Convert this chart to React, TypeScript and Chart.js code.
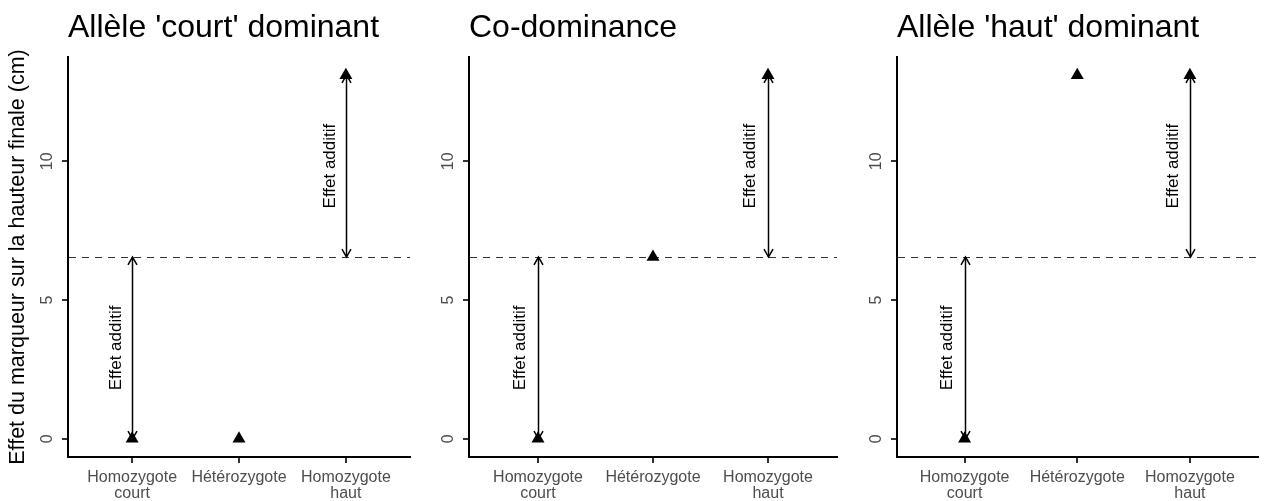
import React, { useEffect, useRef } from "react";
import { Chart, registerables } from "chart.js";

Chart.register(...registerables);

// ---------- data ----------
const categories: string[][] = [["Homozygote", "court"], ["Hétérozygote"], ["Homozygote", "haut"]];
const categoryPositions = [1, 2, 3];
const panelTitles = ["Allèle 'court' dominant", "Co-dominance", "Allèle 'haut' dominant"];
const courtDominant = [0, 0, 13.1];
const coDominance = [0, 6.55, 13.1];
const hautDominant = [0, 13.1, 13.1];
const additiveMidpoint = 6.55;
const yTicks = [0, 5, 10];
const yAxisTitle = "Effet du marqueur sur la hauteur finale (cm)";
const arrowLabel = "Effet additif";

const panelValues = [courtDominant, coDominance, hautDominant];

// ---------- styling ----------
const FONT = "'Liberation Sans', Arial, Helvetica, sans-serif";
const CANVAS_H = 501;
const yDataMax = Math.max(...courtDominant, ...coDominance, ...hautDominant);
const yDataMin = Math.min(...courtDominant, ...coDominance, ...hautDominant);
const yExpand = (yDataMax - yDataMin) * 0.05;
const Y_MIN = yDataMin - yExpand;
const Y_MAX = yDataMax + yExpand;

const panelLayout = [
  { left: 0, width: 440, yScaleWidth: 68, padRight: 30, yTitle: true },
  { left: 440, width: 428, yScaleWidth: 29, padRight: 31, yTitle: false },
  { left: 868, width: 397, yScaleWidth: 29, padRight: 0, yTitle: false },
];

function drawArrow(ctx: CanvasRenderingContext2D, x: number, y1: number, y2: number) {
  const head = 9;
  const ang = Math.PI / 6;
  ctx.beginPath();
  ctx.moveTo(x, y1);
  ctx.lineTo(x, y2);
  ctx.stroke();
  const drawHead = (tipY: number, dir: number) => {
    ctx.beginPath();
    ctx.moveTo(x - head * Math.sin(ang), tipY - dir * head * Math.cos(ang));
    ctx.lineTo(x, tipY);
    ctx.lineTo(x + head * Math.sin(ang), tipY - dir * head * Math.cos(ang));
    ctx.stroke();
  };
  drawHead(y1, y1 > y2 ? 1 : -1);
  drawHead(y2, y2 > y1 ? 1 : -1);
}

function makeDecor(panelIndex: number) {
  const values = panelValues[panelIndex];
  const layout = panelLayout[panelIndex];
  return {
    id: "decor" + panelIndex,
    beforeDatasetsDraw(chart: any) {
      const { ctx, chartArea } = chart;
      const x = chart.scales.x;
      const y = chart.scales.y;
      // dashed mid line
      ctx.save();
      ctx.strokeStyle = "#333333";
      ctx.lineWidth = 1;
      ctx.setLineDash([7, 6]);
      const my = Math.round(y.getPixelForValue(additiveMidpoint)) + 0.5;
      ctx.beginPath();
      ctx.moveTo(chartArea.left + 1, my);
      ctx.lineTo(chartArea.right, my);
      ctx.stroke();
      ctx.restore();

      // arrows
      const arrows = [
        { cat: categoryPositions[0], from: values[0], to: additiveMidpoint },
        { cat: categoryPositions[2], from: additiveMidpoint, to: values[2] },
      ];
      ctx.save();
      ctx.strokeStyle = "#000";
      ctx.lineWidth = 1.5;
      ctx.lineCap = "butt";
      arrows.forEach((a) => {
        const px = Math.round(x.getPixelForValue(a.cat)) + 0.5;
        drawArrow(ctx, px, y.getPixelForValue(a.from), y.getPixelForValue(a.to));
      });
      ctx.restore();

      // arrow labels
      ctx.save();
      ctx.fillStyle = "#000";
      ctx.font = `17px ${FONT}`;
      ctx.textAlign = "center";
      ctx.textBaseline = "middle";
      arrows.forEach((a) => {
        const px = x.getPixelForValue(a.cat - 0.15);
        const py = y.getPixelForValue((a.from + a.to) / 2);
        ctx.save();
        ctx.translate(px, py);
        ctx.rotate(-Math.PI / 2);
        ctx.fillText(arrowLabel, 0, 0);
        ctx.restore();
      });
      ctx.restore();
    },
    afterDraw(chart: any) {
      const { ctx, chartArea } = chart;
      const y = chart.scales.y;
      // title
      ctx.save();
      ctx.fillStyle = "#000";
      ctx.font = `32px ${FONT}`;
      ctx.textAlign = "left";
      ctx.textBaseline = "alphabetic";
      ctx.fillText(panelTitles[panelIndex], chartArea.left, 37);
      ctx.restore();

      // y tick labels (rotated)
      ctx.save();
      ctx.fillStyle = "#4d4d4d";
      ctx.font = `16px ${FONT}`;
      ctx.textAlign = "center";
      ctx.textBaseline = "alphabetic";
      y.ticks.forEach((t: any) => {
        const py = y.getPixelForValue(t.value);
        ctx.save();
        ctx.translate(chartArea.left - 16, py);
        ctx.rotate(-Math.PI / 2);
        ctx.fillText(String(t.value), 0, 0);
        ctx.restore();
      });
      ctx.restore();

      // y axis title
      if (layout.yTitle) {
        ctx.save();
        ctx.fillStyle = "#000";
        ctx.font = `21.5px ${FONT}`;
        ctx.textAlign = "center";
        ctx.textBaseline = "middle";
        ctx.translate(18, (chartArea.top + chartArea.bottom) / 2);
        ctx.rotate(-Math.PI / 2);
        ctx.fillText(yAxisTitle, 0, 0);
        ctx.restore();
      }
    },
  };
}

function Panel({ index }: { index: number }) {
  const ref = useRef<HTMLCanvasElement | null>(null);
  const layout = panelLayout[index];
  useEffect(() => {
    if (!ref.current) return;
    const values = panelValues[index];
    const chart = new Chart(ref.current, {
      type: "scatter",
      data: {
        datasets: [
          {
            data: values.map((v, i) => ({ x: categoryPositions[i], y: v })),
            pointStyle: "triangle",
            pointRadius: 7.5,
            pointHoverRadius: 7.5,
            backgroundColor: "#000",
            borderColor: "#000",
            borderWidth: 0,
          },
        ],
      },
      options: {
        animation: false,
        responsive: false,
        devicePixelRatio: 1,
        events: [],
        layout: { padding: { top: 57, right: layout.padRight, bottom: 0, left: 0 } },
        plugins: {
          legend: { display: false },
          title: { display: false },
          tooltip: { enabled: false },
        },
        scales: {
          x: {
            type: "linear",
            min: 0.4,
            max: 3.6,
            afterBuildTicks: (s: any) => {
              s.ticks = categoryPositions.map((v) => ({ value: v }));
            },
            afterFit: (s: any) => {
              s.height = CANVAS_H - 457;
            },
            ticks: {
              autoSkip: false,
              maxRotation: 0,
              minRotation: 0,
              padding: 7,
              color: "#4d4d4d",
              font: { family: FONT, size: 16, lineHeight: 1.0 },
              callback: (v: any) => {
                const i = categoryPositions.indexOf(Number(v));
                return i >= 0 ? categories[i] : "";
              },
            },
            grid: {
              drawOnChartArea: false,
              drawTicks: true,
              tickLength: 6,
              color: "#333333",
              lineWidth: 2,
            },
            border: { display: true, color: "#000", width: 2 },
          },
          y: {
            type: "linear",
            min: Y_MIN,
            max: Y_MAX,
            afterBuildTicks: (s: any) => {
              s.ticks = yTicks.map((v) => ({ value: v }));
            },
            afterFit: (s: any) => {
              s.width = layout.yScaleWidth;
            },
            ticks: { display: false },
            grid: {
              drawOnChartArea: false,
              drawTicks: true,
              tickLength: 6,
              color: "#333333",
              lineWidth: 2,
            },
            border: { display: true, color: "#000", width: 2 },
          },
        },
      },
      plugins: [makeDecor(index)],
    } as any);
    return () => chart.destroy();
  }, [index]);
  return (
    <canvas
      ref={ref}
      width={layout.width}
      height={CANVAS_H}
      style={{ position: "absolute", left: layout.left, top: 0, width: layout.width, height: CANVAS_H }}
    />
  );
}

export default function App() {
  return (
    <div style={{ position: "absolute", left: 0, top: 0, width: 1265, height: CANVAS_H, background: "#fff" }}>
      {panelTitles.map((_, i) => (
        <Panel key={i} index={i} />
      ))}
    </div>
  );
}
